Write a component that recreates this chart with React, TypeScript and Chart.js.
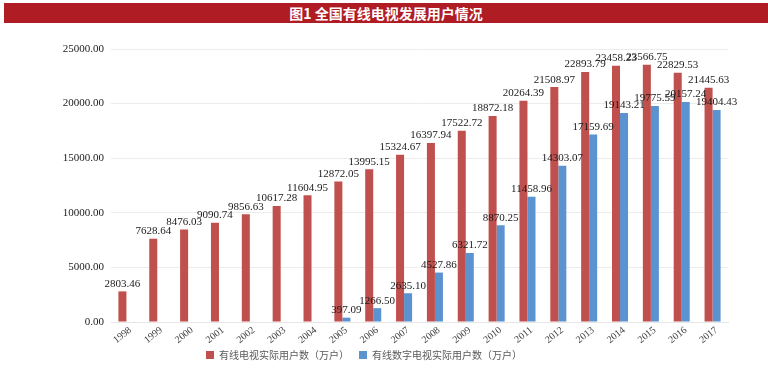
import React, { useEffect, useRef } from "react";
import { Chart, registerables } from "chart.js";

Chart.register(...registerables);

const years = ["1998","1999","2000","2001","2002","2003","2004","2005","2006","2007","2008","2009","2010","2011","2012","2013","2014","2015","2016","2017"];
const cableUsers = [2803.46,7628.64,8476.03,9090.74,9856.63,10617.28,11604.95,12872.05,13995.15,15324.67,16397.94,17522.72,18872.18,20264.39,21508.97,22893.79,23458.23,23566.75,22829.53,21445.63];
const digitalUsers = [null,null,null,null,null,null,null,397.09,1266.50,2635.10,4527.86,6321.72,8870.25,11458.96,14303.07,17159.69,19143.21,19775.59,20157.24,19404.43];
const seriesNames = ["有线电视实际用户数（万户）","有线数字电视实际用户数（万户）"];
const titleText = "图1 全国有线电视发展用户情况";

const RED = "#c0504d";
const BLUE = "#5b93d0";

const valueLabels = {
  id: "valueLabels",
  afterDatasetsDraw(chart: any) {
    const ctx = chart.ctx;
    ctx.save();
    ctx.font = "11px 'Liberation Serif'";
    ctx.fillStyle = "#1a1a1a";
    ctx.textAlign = "center";
    ctx.textBaseline = "bottom";
    chart.data.datasets.forEach((ds: any, di: number) => {
      const meta = chart.getDatasetMeta(di);
      meta.data.forEach((bar: any, i: number) => {
        const v = ds.data[i];
        if (v == null) return;
        ctx.fillText(Number(v).toFixed(2), bar.x, bar.y - 2);
      });
    });
    // rotated category labels
    const xs = chart.scales.x;
    ctx.font = "10px 'Liberation Serif'";
    ctx.fillStyle = "#404040";
    ctx.textAlign = "right";
    ctx.textBaseline = "middle";
    chart.data.labels.forEach((lab: string, i: number) => {
      const x = xs.getPixelForTick(i);
      ctx.save();
      ctx.translate(x + 4, xs.top + 7);
      ctx.rotate((-38 * Math.PI) / 180);
      ctx.fillText(lab, 0, 0);
      ctx.restore();
    });
    ctx.restore();
  },
};

export default function App() {
  const ref = useRef<HTMLCanvasElement>(null);
  useEffect(() => {
    const chart = new Chart(ref.current!, {
      type: "bar",
      data: {
        labels: years,
        datasets: [
          { label: seriesNames[0], data: cableUsers, backgroundColor: RED, barPercentage: 1.0, categoryPercentage: 0.52 },
          { label: seriesNames[1], data: digitalUsers as any, backgroundColor: BLUE, barPercentage: 1.0, categoryPercentage: 0.52 },
        ],
      },
      options: {
        animation: false,
        responsive: false,
        layout: { padding: { top: 49, right: 40, left: 0, bottom: 0 } },
        plugins: {
          legend: {
            position: "bottom",
            labels: {
              boxWidth: 8,
              boxHeight: 8,
              color: "#595959",
              font: { family: "'Noto Sans CJK SC'", size: 10 },
              padding: 10,
            },
          },
          tooltip: { enabled: false },
        },
        scales: {
          x: {
            grid: { display: false },
            border: { color: "#e6e6e6" },
            ticks: { display: false },
            afterFit(scale: any) { scale.height = 18; },
          },
          y: {
            min: 0,
            max: 25000,
            ticks: {
              stepSize: 5000,
              color: "#1a1a1a",
              font: { family: "'Liberation Serif'", size: 11 },
              callback: (v: any) => Number(v).toFixed(2),
              padding: 7,
            },
            grid: { color: "#ececec", drawTicks: false },
            border: { display: false },
            afterFit(scale: any) { scale.width = 111; },
          },
        },
      },
      plugins: [valueLabels],
    });
    return () => chart.destroy();
  }, []);
  return (
    <div style={{ position: "fixed", left: 0, top: 0, width: 768, height: 370, background: "#fff" }}>
      <canvas ref={ref} width={768} height={370} style={{ position: "absolute", left: 0, top: 0 }} />
      <div
        style={{
          position: "absolute",
          left: 4,
          top: 3,
          width: 764,
          height: 20,
          background: "#b01c24",
          color: "#fff",
          fontFamily: "'Noto Sans CJK SC'",
          fontWeight: 700,
          fontSize: 14,
          lineHeight: "20px",
          textAlign: "center",
        }}
      >
        {titleText}
      </div>
    </div>
  );
}
